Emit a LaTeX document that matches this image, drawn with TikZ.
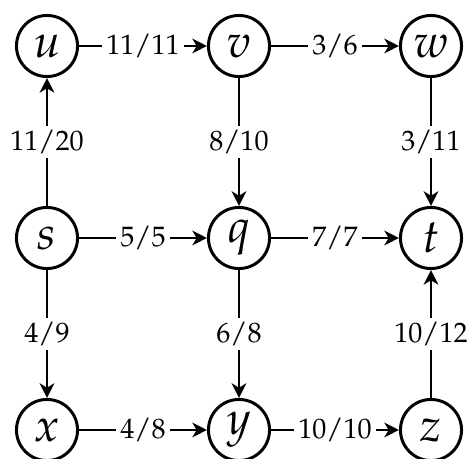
\documentclass[tikz,border=0pt]{standalone}
\usepackage[T1]{fontenc}
\usepackage{mathpazo}
\usetikzlibrary{arrows.meta}
\begin{document}
\begin{tikzpicture}[x=0.37pt,y=-0.37pt,
  vert/.style={draw,circle,line width=1.1pt,minimum size=22.6pt,inner sep=0pt,font=\LARGE},
  flow/.style={line width=1.1pt,-{Stealth[length=5.4pt,width=5.4pt,inset=1.6pt]}},
  flowlabel/.style={fill=white,inner sep=1.6pt,font=\fontsize{10.4}{12}\selectfont}]
  \useasboundingbox (0,0) rectangle (471,459);
  % vertices on a 3x3 grid
  \node[vert] (u) at (47,46) {$u$};
  \node[vert] (v) at (239,46) {$v$};
  \node[vert] (w) at (431,46) {$w$};
  \node[vert] (s) at (47,238) {$s$};
  \node[vert] (q) at (239,238) {$q$};
  \node[vert] (t) at (431,238) {$t$};
  \node[vert] (x) at (47,430) {$x$};
  \node[vert] (y) at (239,430) {$y$};
  \node[vert] (z) at (431,430) {$z$};
  % flow / capacity on each edge
  \draw[flow] (u) -- node[flowlabel] {11/11} (v);
  \draw[flow] (v) -- node[flowlabel] {3/6} (w);
  \draw[flow] (s) -- node[flowlabel] {11/20} (u);
  \draw[flow] (v) -- node[flowlabel] {8/10} (q);
  \draw[flow] (w) -- node[flowlabel] {3/11} (t);
  \draw[flow] (s) -- node[flowlabel] {5/5} (q);
  \draw[flow] (q) -- node[flowlabel] {7/7} (t);
  \draw[flow] (s) -- node[flowlabel] {4/9} (x);
  \draw[flow] (q) -- node[flowlabel] {6/8} (y);
  \draw[flow] (z) -- node[flowlabel] {10/12} (t);
  \draw[flow] (x) -- node[flowlabel] {4/8} (y);
  \draw[flow] (y) -- node[flowlabel] {10/10} (z);
\end{tikzpicture}
\end{document}
